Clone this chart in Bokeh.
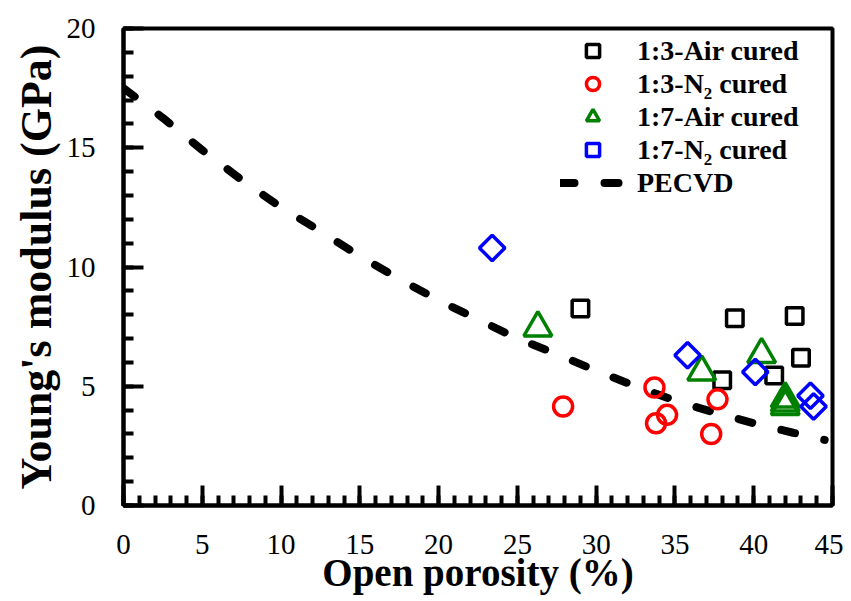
from bokeh.plotting import figure
from bokeh.models import FixedTicker, Legend, LegendItem, Range1d
from bokeh.embed import file_html
from bokeh.resources import INLINE
import math

# data
air13_x = [29.0, 38.8, 42.6, 43.0, 38.0, 41.3]
air13_y = [8.26, 7.85, 7.95, 6.2, 5.25, 5.45]

n213_x = [27.9, 33.7, 34.5, 33.8, 37.7, 37.3]
n213_y = [4.15, 4.95, 3.8, 3.45, 4.45, 3.0]

air17_x = [26.3, 36.7, 40.5, 42.0, 42.0, 42.0]
air17_y = [7.45, 5.6, 6.33, 4.47, 4.3, 4.15]

n217_x = [23.4, 35.8, 40.1, 43.6, 43.8]
n217_y = [10.8, 6.3, 5.6, 4.6, 4.15]

pecvd_x = [0, 2.5, 5, 7.5, 10, 12.5, 15, 17.5, 20, 22.5, 25, 27.5, 30, 32.5, 35, 37.5, 40, 42.5, 44.5]
pecvd_y = [17.5, 16.25, 14.9, 13.65, 12.5, 11.5, 10.45, 9.5, 8.6, 7.8, 7.0, 6.35, 5.65, 5.0, 4.4, 3.9, 3.45, 3.05, 2.75]

x_ticks = [0, 5, 10, 15, 20, 25, 30, 35, 40, 45]
y_ticks = [0, 5, 10, 15, 20]

FONT = "Liberation Serif"

p = figure(width=843, height=601, output_backend="svg", toolbar_location=None,
           x_range=Range1d(0, 45), y_range=Range1d(0, 20),
           min_border_left=123, min_border_right=11, min_border_top=28, min_border_bottom=96)
p.xgrid.visible = False
p.ygrid.visible = False
p.background_fill_color = "white"
p.border_fill_color = "white"
p.outline_line_color = "black"
p.outline_line_width = 4

for ax, ticks, minor in ((p.xaxis, x_ticks, list(range(0, 46))), (p.yaxis, y_ticks, list(range(0, 21)))):
    ax.ticker = FixedTicker(ticks=ticks, minor_ticks=minor)
    ax.axis_line_width = 4
    ax.axis_line_color = "black"
    ax.major_tick_in = 20
    ax.major_tick_out = 0
    ax.minor_tick_in = 10
    ax.minor_tick_out = 0
    ax.major_tick_line_width = 4
    ax.minor_tick_line_width = 4
    ax.major_label_text_font = FONT
    ax.major_label_text_font_size = "29px"
    ax.major_label_text_color = "black"
    ax.axis_label_text_font = FONT
    ax.axis_label_text_font_style = "bold"
    ax.axis_label_text_color = "black"

p.xaxis.axis_label = "Open porosity (%)"
p.yaxis.axis_label = "Young's modulus (GPa)"
p.xaxis.axis_label_text_font_size = "39px"
p.yaxis.axis_label_text_font_size = "44px"
p.xaxis.major_label_standoff = 29
p.yaxis.major_label_standoff = 28
p.xaxis.axis_label_standoff = -6
p.yaxis.axis_label_standoff = 3

line_r = p.line(pecvd_x, pecvd_y, line_color="black", line_width=8, line_dash="14 30", line_cap="round")
sq = p.scatter(air13_x, air13_y, marker="square", size=16.5, fill_alpha=0, line_color="black", line_width=3.5)
ci = p.scatter(n213_x, n213_y, marker="circle", size=19, fill_alpha=0, line_color="#ff0000", line_width=3.5)
tr = p.scatter(air17_x, air17_y, marker="triangle", size=28, fill_alpha=0, line_color="#008000", line_width=3.5)
di = p.scatter(n217_x, n217_y, marker="square", angle=math.pi / 4, size=18, fill_alpha=0, line_color="#0000ff", line_width=3.5)

legend = Legend(items=[
    LegendItem(label="1:3-Air cured", renderers=[sq]),
    LegendItem(label="1:3-N\u2082 cured", renderers=[ci]),
    LegendItem(label="1:7-Air cured", renderers=[tr]),
    LegendItem(label="1:7-N\u2082 cured", renderers=[di]),
    LegendItem(label="PECVD", renderers=[line_r]),
], location=(433, 302))
legend.label_text_font = FONT
legend.label_text_font_size = "28px"
legend.label_text_font_style = "bold"
legend.label_text_color = "black"
legend.glyph_width = 65
legend.glyph_height = 33
legend.label_height = 33
legend.label_standoff = 12
legend.spacing = 0
legend.padding = 4
legend.margin = 0
legend.border_line_alpha = 0
legend.background_fill_alpha = 0
p.add_layout(legend)

open("out.html", "w").write(file_html(p, INLINE))
